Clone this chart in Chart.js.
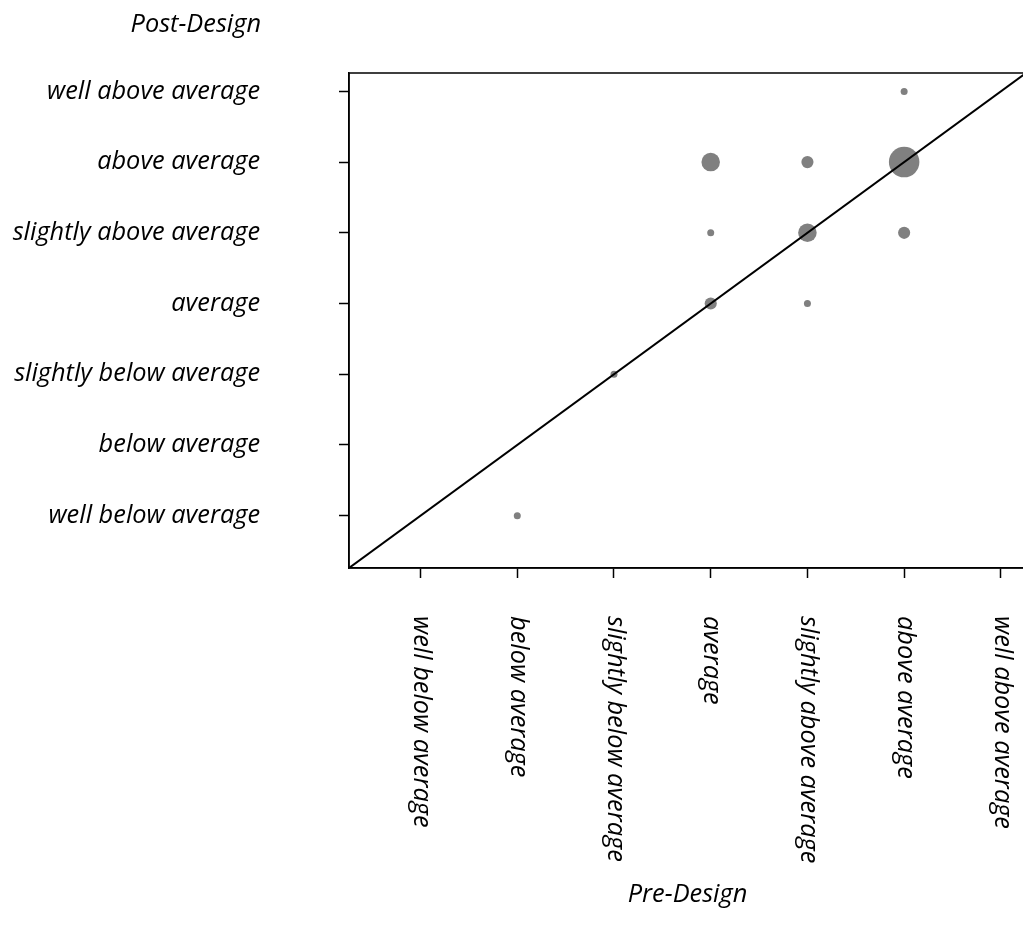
<!DOCTYPE html>
<html>
<head>
<meta charset="utf-8">
<script src="https://cdn.jsdelivr.net/npm/chart.js@4"></script>
<style>
  html, body { margin: 0; padding: 0; background: #fff; overflow: hidden; }
  #wrap { width: 1030px; height: 948px; }
</style>
</head>
<body>
<div id="wrap"><canvas id="chart" width="1030" height="948"></canvas></div>
<script>
// rating levels, used on both axes (1 = well below ... 7 = well above)
const levels = [
  "well below average",
  "below average",
  "slightly below average",
  "average",
  "slightly above average",
  "above average",
  "well above average",
]
const levelValues = [1, 2, 3, 4, 5, 6, 7]

// responses: pre-design rating, post-design rating, number of respondents
const preRating = [2, 3, 4, 4, 4, 5, 5, 5, 6, 6, 6]
const postRating = [1, 3, 4, 5, 6, 4, 5, 6, 5, 6, 7]
const counts = [1, 1, 3, 1, 7, 1, 7, 3, 3, 19, 1]

const AXIS_MIN = 0.26
const AXIS_MAX = 7.26

// bubble area proportional to count
const bubbles = preRating.map((x, i) => ({ x: x, y: postRating[i], r: 3.5 * Math.sqrt(counts[i]) }))

// fit the label font to the reference width
const measureCtx = document.createElement("canvas").getContext("2d")
measureCtx.font = "italic 20px 'Open Sans'"
const FONT_SIZE = (20 * 213) / measureCtx.measureText("well above average").width
const FONT = `italic ${FONT_SIZE.toFixed(2)}px 'Open Sans'`

const labelPlugin = {
  id: "labelPlugin",
  afterDraw(chart) {
    const { ctx, chartArea } = chart
    const xs = chart.scales.x
    const ys = chart.scales.y
    ctx.save()
    ctx.strokeStyle = "#000"
    ctx.lineWidth = 1.5
    ctx.strokeRect(chartArea.left, chartArea.top, chartArea.right - chartArea.left, chartArea.bottom - chartArea.top)

    ctx.fillStyle = "#000"
    ctx.font = FONT

    // y labels
    ctx.textAlign = "right"
    ctx.textBaseline = "middle"
    levelValues.forEach((v, i) => {
      ctx.fillText(levels[i], chartArea.left - 89, ys.getPixelForValue(v))
    })
    ctx.fillText("Post-Design", chartArea.left - 88, 25)

    // x labels, reading downwards
    ctx.textAlign = "left"
    levelValues.forEach((v, i) => {
      ctx.save()
      ctx.translate(xs.getPixelForValue(v) + 1, chartArea.bottom + 48)
      ctx.rotate(Math.PI / 2)
      ctx.fillText(levels[i], 0, 0)
      ctx.restore()
    })

    ctx.textAlign = "center"
    ctx.fillText("Pre-Design", (chartArea.left + chartArea.right) / 2, 895)
    ctx.restore()
  },
}

const axisCommon = {
  type: "linear",
  min: AXIS_MIN,
  max: AXIS_MAX,
  afterBuildTicks: (scale) => {
    scale.ticks = levelValues.map((v) => ({ value: v }))
  },
  ticks: { display: false },
  grid: { drawOnChartArea: false, drawTicks: true, tickLength: 10, color: "#000", tickWidth: 1.5 },
  border: { display: true, color: "#000", width: 1.5 },
}

new Chart(document.getElementById("chart"), {
  type: "bubble",
  data: {
    datasets: [
      {
        type: "line",
        data: [
          { x: AXIS_MIN, y: AXIS_MIN },
          { x: AXIS_MAX, y: AXIS_MAX },
        ],
        borderColor: "#000",
        borderWidth: 2,
        pointRadius: 0,
        fill: false,
        order: 0,
      },
      {
        data: bubbles,
        backgroundColor: "#808080",
        borderWidth: 0,
        order: 1,
      },
    ],
  },
  options: {
    responsive: false,
    animation: false,
    devicePixelRatio: 1,
    layout: { autoPadding: false, padding: { left: 339, top: 73, right: 4, bottom: 370 } },
    plugins: { legend: { display: false }, tooltip: { enabled: false } },
    scales: {
      x: { ...axisCommon, position: "bottom" },
      y: { ...axisCommon, position: "left" },
    },
  },
  plugins: [labelPlugin],
})
</script>
</body>
</html>
